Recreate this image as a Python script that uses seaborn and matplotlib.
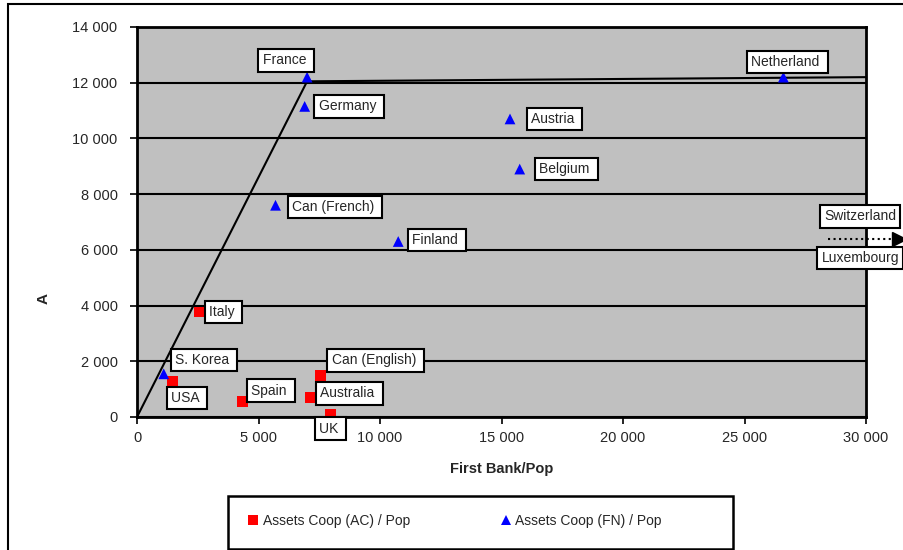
import pandas as pd
import matplotlib.pyplot as plt
import matplotlib.patches as patches
from matplotlib.ticker import FuncFormatter, MultipleLocator
import seaborn as sns

# AC series (red squares)
ac_names = ['Italy', 'USA', 'Can (English)', 'Spain', 'Australia', 'UK']
ac_x = [2550, 1450, 7550, 4350, 7150, 7950]
ac_y = [3770, 1290, 1480, 550, 700, 80]

# FN series (blue triangles)
fn_names = ['France', 'Germany', 'Netherland', 'Austria', 'Belgium',
            'Can (French)', 'Finland', 'S. Korea']
fn_x = [7000, 6900, 26600, 15350, 15750, 5700, 10750, 1100]
fn_y = [12200, 11150, 12200, 10700, 8900, 7600, 6300, 1550]

# frontier line
line_x = [0, 7000, 30000]
line_y = [0, 12050, 12200]

# off-scale countries (Switzerland / Luxembourg)
off_x = [28450, 31350]
off_y = 6400

# label offsets in points (dx, dy, ha)
label_pos = {
    'France': (-15, 12, 'center'), 'Germany': (10, 0, 'left'),
    'Netherland': (3, 11, 'center'), 'Austria': (15, 0, 'left'),
    'Belgium': (14, 0, 'left'), 'Can (French)': (12, -1, 'left'),
    'Finland': (10, 1, 'left'), 'S. Korea': (8, 10, 'left'),
    'Italy': (7, 0, 'left'), 'USA': (-1, -12, 'left'),
    'Can (English)': (8, 11, 'left'), 'Spain': (6, 8, 'left'),
    'Australia': (7, 3, 'left'), 'UK': (-8, -10, 'left'),
}

df = pd.DataFrame({
    'x': ac_x + fn_x,
    'y': ac_y + fn_y,
    'name': ac_names + fn_names,
    'series': ['Assets Coop (AC) / Pop'] * len(ac_x) + ['Assets Coop (FN) / Pop'] * len(fn_x),
})

sns.set_style('white')
plt.rcParams['font.family'] = ['Liberation Sans', 'DejaVu Sans']

fig = plt.figure(figsize=(9.04, 5.5), dpi=100)
ax = fig.add_axes([137 / 904, 1 - 417 / 550, 729 / 904, 390 / 550])
ax.set_facecolor('#C0C0C0')

ax.plot(line_x, line_y, color='black', lw=1.5, zorder=2)

sns.scatterplot(data=df, x='x', y='y', hue='series', style='series',
                markers={'Assets Coop (AC) / Pop': 's', 'Assets Coop (FN) / Pop': '^'},
                palette={'Assets Coop (AC) / Pop': '#FF0000', 'Assets Coop (FN) / Pop': '#0000FF'},
                s=60, linewidth=0, ax=ax, zorder=3)

box = dict(boxstyle='square,pad=0.3', fc='white', ec='black', lw=1.5)
for _, r in df.iterrows():
    dx, dy, ha = label_pos[r['name']]
    ax.annotate(r['name'] + ' ', (r['x'], r['y']), xytext=(dx, dy), textcoords='offset points',
                ha=ha, va='center', fontsize=10, bbox=box, zorder=5, annotation_clip=False)

# arrow for off-scale countries
ax.plot(off_x, [off_y, off_y], ls=':', color='black', lw=1.5, clip_on=False, zorder=4)
ax.plot(off_x[1], off_y, marker='>', color='black', ms=10, clip_on=False, zorder=4)
ax.annotate('Switzerland', (off_x[0], off_y), xytext=(-3, 16), textcoords='offset points',
            ha='left', va='center', fontsize=10, bbox=box, annotation_clip=False, zorder=5)
ax.annotate('Luxembourg', (off_x[0], off_y), xytext=(-5, -14), textcoords='offset points',
            ha='left', va='center', fontsize=10, bbox=box, annotation_clip=False, zorder=5)

ax.set_xlim(0, 30000)
ax.set_ylim(0, 14000)
ax.xaxis.set_major_locator(MultipleLocator(5000))
ax.yaxis.set_major_locator(MultipleLocator(2000))
fmt = FuncFormatter(lambda v, p: '{:,.0f}'.format(v).replace(',', ' '))
ax.xaxis.set_major_formatter(fmt)
ax.yaxis.set_major_formatter(fmt)
ax.tick_params(axis='both', labelsize=10.5, length=5, width=1.2, color='black',
               direction='out', bottom=True, left=True)
ax.tick_params(axis='x', pad=5)
ax.tick_params(axis='y', pad=9)
ax.grid(axis='y', color='black', lw=1.5)
ax.set_axisbelow(True)
for sp in ax.spines.values():
    sp.set_visible(True)
    sp.set_color('black')
    sp.set_linewidth(2)

ax.set_xlabel('First Bank/Pop', fontsize=10.5, fontweight='bold', labelpad=12)
ax.set_ylabel('A', fontsize=11, fontweight='bold')
ax.yaxis.set_label_coords(-0.119, 0.305)

handles, labels = ax.get_legend_handles_labels()
ax.legend(handles, labels, loc='center left', ncol=2,
          bbox_to_anchor=(246 / 904, 1 - 521 / 550), bbox_transform=fig.transFigure,
          frameon=False, fontsize=10, handlelength=1.0, handletextpad=0.2,
          columnspacing=6.4, borderpad=0, borderaxespad=0, markerscale=0.9)

# legend frame and outer chart border
fig.add_artist(patches.Rectangle((228 / 904, 1 - 549 / 550), 505 / 904, 53 / 550,
                                 transform=fig.transFigure, fill=False,
                                 ec='black', lw=1.8))
fig.add_artist(patches.Rectangle((8 / 904, -0.01), 1.0, 1 - 4 / 550 + 0.01,
                                 transform=fig.transFigure, fill=False,
                                 ec='black', lw=1.5))

fig.savefig('out.png', dpi=100)
